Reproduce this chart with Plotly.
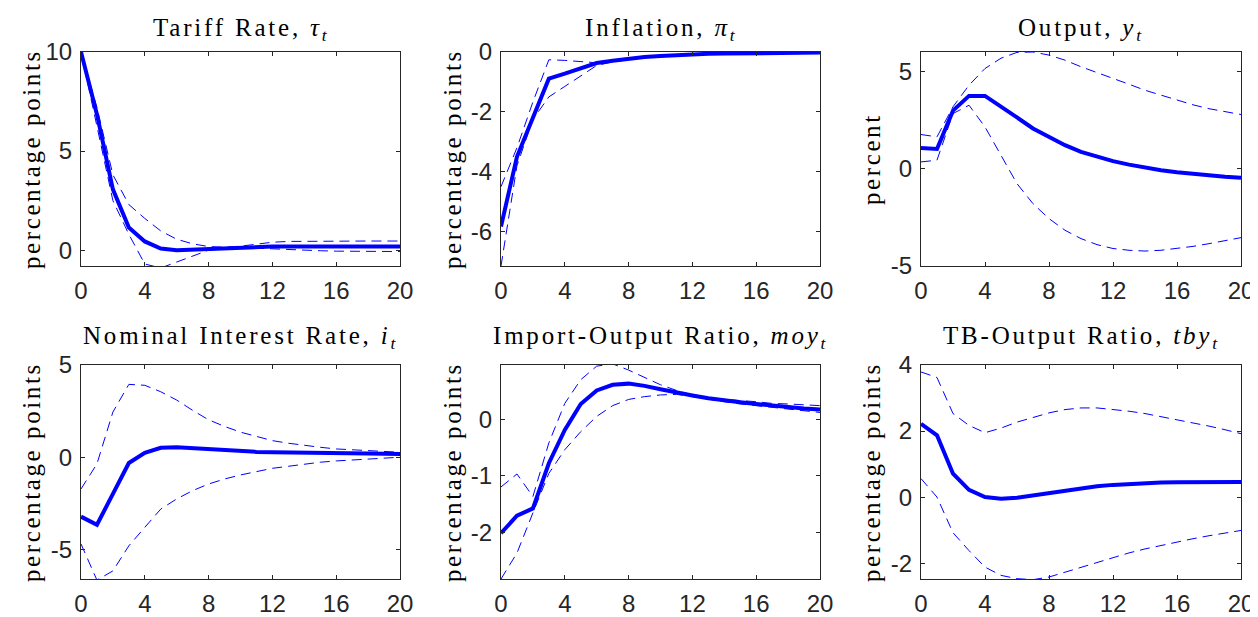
import plotly.graph_objects as go

# the page has an 8px body margin; the figure starts at (8, 8) and reaches the window edge
PAGE_W, PAGE_H, BODY = 1258, 617, 8
W, H = PAGE_W - BODY, PAGE_H - BODY

horizon = list(range(21))
x_ticks = [0, 4, 8, 12, 16, 20]

titles = [
    "Tariff Rate, <i>τ</i><sub><i>t</i></sub>",
    "Inflation, <i>π</i><sub><i>t</i></sub>",
    "Output, <i>y</i><sub><i>t</i></sub>",
    "Nominal Interest Rate, <i>i</i><sub><i>t</i></sub>",
    "Import-Output Ratio, <i>moy</i><sub><i>t</i></sub>",
    "TB-Output Ratio, <i>tby</i><sub><i>t</i></sub>",
]
ylabels = ["percentage points", "percentage points", "percent",
           "percentage points", "percentage points", "percentage points"]

tariff_med = [10, 6.85, 3.07, 1.14, 0.44, 0.08, 0.0, 0.03, 0.08, 0.12, 0.15, 0.17, 0.18, 0.19, 0.19, 0.19, 0.19, 0.19, 0.19, 0.18, 0.18]
tariff_up = [10, 7.2, 3.8, 2.3, 1.6, 0.97, 0.55, 0.32, 0.18, 0.15, 0.2, 0.3, 0.4, 0.44, 0.45, 0.46, 0.46, 0.46, 0.46, 0.46, 0.46]
tariff_lo = [10, 6.3, 2.5, 0.8, -0.7, -0.9, -0.6, -0.3, 0.0, 0.06, 0.1, 0.1, 0.06, 0.02, -0.01, -0.03, -0.05, -0.06, -0.07, -0.07, -0.07]

infl_med = [-5.83, -3.5, -2.2, -0.89, -0.72, -0.55, -0.37, -0.29, -0.22, -0.17, -0.13, -0.1, -0.08, -0.06, -0.05, -0.04, -0.03, -0.03, -0.02, -0.02, -0.02]
infl_up = [-4.5, -3.2, -1.67, -0.26, -0.28, -0.33, -0.36, -0.28, -0.21, -0.16, -0.12, -0.09, -0.07, -0.05, -0.04, -0.03, -0.03, -0.02, -0.02, -0.02, -0.01]
infl_lo = [-7.15, -3.8, -2.25, -1.5, -1.15, -0.8, -0.45, -0.33, -0.25, -0.19, -0.15, -0.11, -0.09, -0.07, -0.06, -0.05, -0.04, -0.03, -0.03, -0.02, -0.02]

out_med = [1.08, 1.03, 3.0, 3.76, 3.76, 3.23, 2.65, 2.08, 1.65, 1.22, 0.88, 0.62, 0.40, 0.22, 0.07, -0.07, -0.17, -0.26, -0.34, -0.40, -0.45]
out_up = [1.77, 1.65, 3.2, 4.31, 5.17, 5.7, 6.0, 6.02, 5.86, 5.6, 5.26, 4.97, 4.66, 4.36, 4.05, 3.8, 3.54, 3.3, 3.1, 2.94, 2.8]
out_lo = [0.36, 0.45, 2.85, 3.28, 2.16, 0.7, -0.76, -1.79, -2.56, -3.16, -3.59, -3.9, -4.1, -4.19, -4.23, -4.19, -4.1, -3.99, -3.85, -3.71, -3.54]

int_med = [-3.22, -3.66, -1.99, -0.31, 0.24, 0.51, 0.54, 0.49, 0.42, 0.36, 0.33, 0.29, 0.27, 0.25, 0.24, 0.23, 0.22, 0.21, 0.2, 0.19, 0.18]
int_up = [-1.72, -0.36, 2.45, 3.95, 3.9, 3.55, 3.1, 2.54, 2.03, 1.67, 1.36, 1.12, 0.9, 0.76, 0.63, 0.54, 0.45, 0.4, 0.34, 0.31, 0.27]
int_lo = [-4.7, -6.66, -6.16, -4.8, -3.8, -2.81, -2.26, -1.81, -1.45, -1.18, -0.96, -0.76, -0.6, -0.49, -0.36, -0.27, -0.2, -0.14, -0.09, -0.05, 0.0]

imp_med = [-2.02, -1.71, -1.58, -0.78, -0.19, 0.27, 0.51, 0.61, 0.63, 0.59, 0.53, 0.47, 0.42, 0.37, 0.33, 0.3, 0.27, 0.24, 0.21, 0.19, 0.17]
imp_up = [-1.2, -0.97, -1.37, -0.42, 0.28, 0.7, 0.94, 0.98, 0.87, 0.74, 0.61, 0.51, 0.43, 0.38, 0.35, 0.33, 0.31, 0.28, 0.27, 0.25, 0.24]
imp_lo = [-2.83, -2.37, -1.66, -0.96, -0.54, -0.22, 0.05, 0.24, 0.35, 0.4, 0.43, 0.44, 0.4, 0.35, 0.31, 0.27, 0.24, 0.21, 0.18, 0.15, 0.12]

tb_med = [2.22, 1.87, 0.71, 0.22, 0.0, -0.05, -0.02, 0.05, 0.13, 0.2, 0.28, 0.33, 0.37, 0.4, 0.42, 0.44, 0.45, 0.45, 0.45, 0.46, 0.46]
tb_up = [3.79, 3.62, 2.53, 2.17, 1.95, 2.09, 2.27, 2.42, 2.55, 2.65, 2.7, 2.7, 2.66, 2.6, 2.53, 2.44, 2.35, 2.25, 2.15, 2.04, 1.92]
tb_lo = [0.56, 0.0, -1.08, -1.62, -2.12, -2.37, -2.47, -2.5, -2.42, -2.27, -2.12, -1.97, -1.82, -1.69, -1.57, -1.46, -1.36, -1.26, -1.17, -1.09, -1.01]

series = [
    (tariff_med, tariff_up, tariff_lo),
    (infl_med, infl_up, infl_lo),
    (out_med, out_up, out_lo),
    (int_med, int_up, int_lo),
    (imp_med, imp_up, imp_lo),
    (tb_med, tb_up, tb_lo),
]
y_ranges = [[-0.8, 10], [-7.15, 0], [-5, 6.02], [-6.6, 5], [-2.83, 0.96], [-2.48, 4]]
y_ticks = [[0, 5, 10], [-6, -4, -2, 0], [-5, 0, 5], [-5, 0, 5], [-2, -1, 0], [-2, 0, 2, 4]]

# layout geometry in page pixels
col_px = [(81, 400), (501, 820), (921, 1241)]
row_px = [(52, 266), (365, 579)]
ylab_x = [31, 452, 871]
title_y = [30, 337]


def px(X):
    return (X - BODY) / W


def py(Y):
    return 1 - (Y - BODY) / H


BLUE = "rgb(0,0,255)"
AX = "#262626"
SERIF = "Liberation Serif, Times New Roman, serif"
SANS = "Liberation Sans, Arial, Helvetica, sans-serif"
LABEL_SIZE = 25

fig = go.Figure()
annotations = []
for k in range(6):
    r, c = divmod(k, 3)
    sfx = "" if k == 0 else str(k + 1)
    med, up, lo = series[k]
    for ys, dash, wdt in [(up, "10px,6px", 1), (lo, "10px,6px", 1), (med, "solid", 4)]:
        fig.add_trace(go.Scatter(x=horizon, y=ys, mode="lines",
                                 line=dict(color=BLUE, width=wdt, dash=dash),
                                 xaxis="x" + sfx, yaxis="y" + sfx,
                                 showlegend=False, hoverinfo="skip"))
    x0, x1 = col_px[c]
    y0, y1 = row_px[r]
    common = dict(showline=True, mirror="ticks", linecolor=AX, linewidth=1,
                  ticks="inside", ticklen=4, tickcolor=AX, tickwidth=1,
                  showgrid=False, zeroline=False, automargin=False,
                  tickfont=dict(family=SANS, size=24, color=AX))
    fig.update_layout(**{
        "xaxis" + sfx: dict(domain=[px(x0), px(x1)], range=[0, 20],
                            anchor="y" + sfx, tickvals=x_ticks,
                            ticktext=[str(v) for v in x_ticks],
                            ticklabelstandoff=3, **common),
        "yaxis" + sfx: dict(domain=[py(y1), py(y0)], range=y_ranges[k],
                            anchor="x" + sfx, tickvals=y_ticks[k],
                            ticktext=[str(v) for v in y_ticks[k]],
                            ticklabelstandoff=3, **common),
    })
    annotations.append(dict(
        text=('<span style="letter-spacing:2.8px;font-size:%dpx">' % LABEL_SIZE)
        + titles[k] + "</span>",
        x=px((x0 + x1) / 2), y=py(title_y[r]), xref="paper", yref="paper",
        xanchor="center", yanchor="middle", showarrow=False,
        font=dict(family=SERIF, size=LABEL_SIZE, color="black")))
    annotations.append(dict(
        text=('<span style="letter-spacing:2.6px;font-size:%dpx">' % LABEL_SIZE)
        + ylabels[k] + "</span>",
        x=px(ylab_x[c]), y=py((y0 + y1) / 2), xref="paper", yref="paper",
        xanchor="center", yanchor="middle", showarrow=False, textangle=-90,
        font=dict(family=SERIF, size=LABEL_SIZE, color="black")))

fig.update_layout(width=W, height=H, margin=dict(l=0, r=0, t=0, b=0, pad=0),
                  paper_bgcolor="white", plot_bgcolor="white",
                  annotations=annotations)
fig.write_html("out.html")
